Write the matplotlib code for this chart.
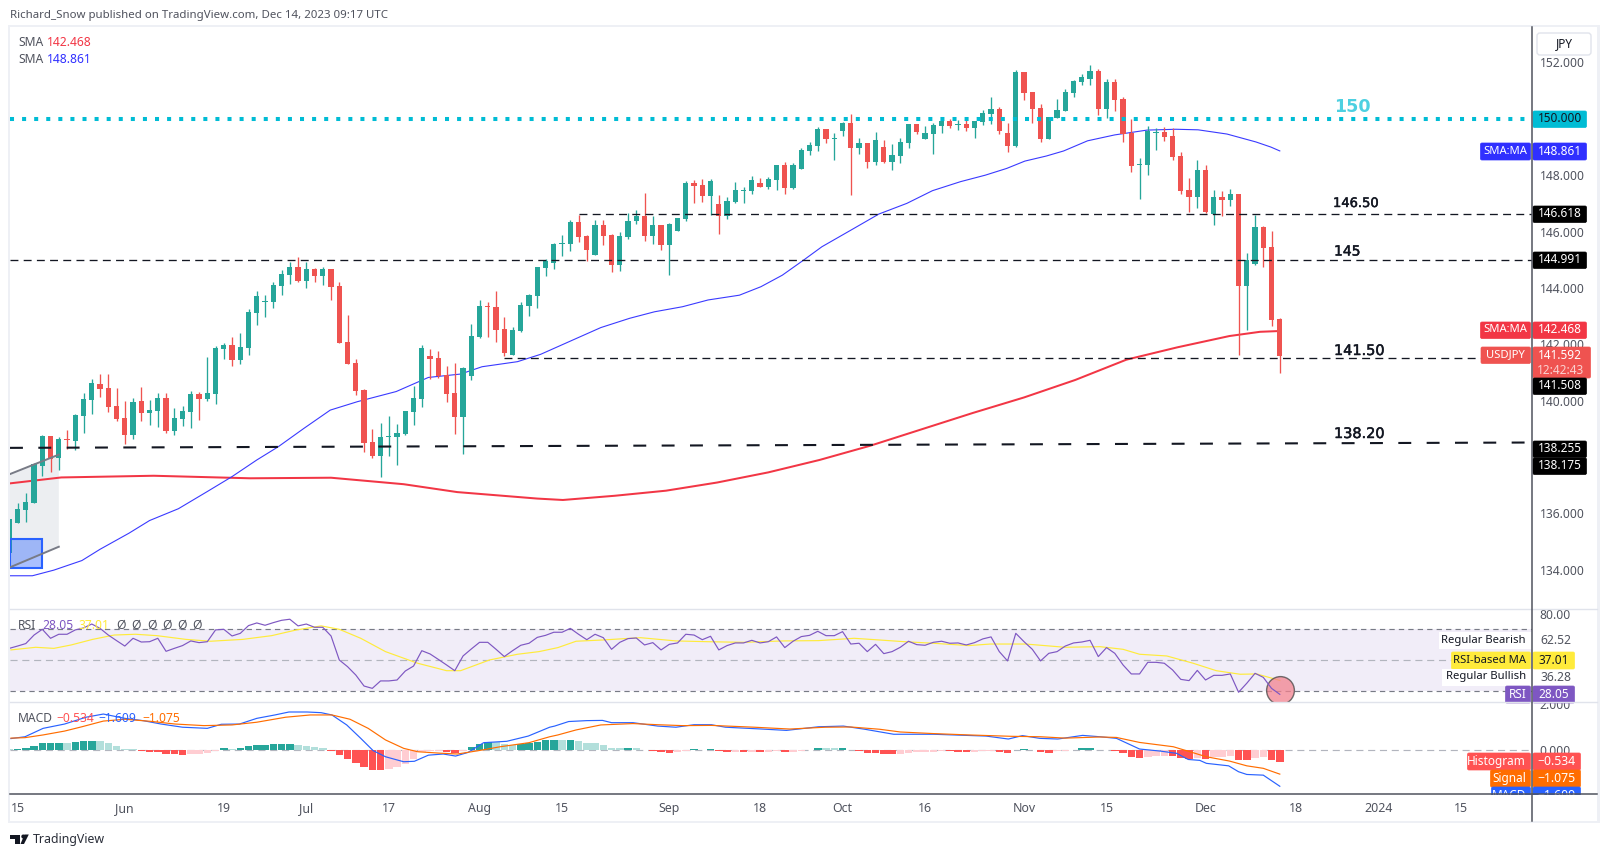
import numpy as np
import matplotlib
matplotlib.use("Agg")
import matplotlib.pyplot as plt
import matplotlib.patheffects as pe
from matplotlib.patches import Rectangle, FancyBboxPatch, Circle, Polygon

plt.rcParams['font.family'] = ['Noto Sans', 'DejaVu Sans']

W, H = 1606, 857

opens = [134.58,135.66,136.13,136.37,137.69,138.74,137.97,138.64,138.56,139.45,
         140.02,140.59,140.45,139.81,139.38,138.78,139.98,139.56,139.63,140.09,
         138.92,139.35,139.59,140.23,140.05,140.23,141.83,141.97,141.44,141.87,
         143.11,143.50,143.50,144.07,144.45,144.74,144.24,144.67,144.42,144.67,
         144.06,142.08,141.33,140.37,138.53,138.03,138.71,138.71,138.81,139.59,
         140.06,141.58,141.51,140.91,140.27,139.42,140.87,142.26,143.36,143.32,
         142.54,141.62,142.47,143.36,143.71,144.70,144.88,145.55,145.55,146.34,
         145.84,145.16,146.23,145.87,144.81,145.80,146.37,146.55,145.84,146.23,
         145.52,146.02,146.44,147.72,147.65,147.26,146.98,146.55,147.05,147.44,
         147.44,147.72,147.58,147.83,148.36,147.54,148.22,148.86,149.03,149.64,
         149.28,149.57,149.85,148.96,149.14,148.47,149.00,148.47,148.68,149.14,
         149.81,149.28,149.46,149.74,149.92,149.78,149.81,149.67,149.89,150.17,
         150.35,149.50,149.03,151.66,150.95,150.38,149.28,150.03,150.28,150.92,
         151.31,151.41,151.70,150.35,151.31,150.70,149.49,148.36,148.36,149.49,
         149.53,149.39,148.68,147.47,147.22,148.18,146.62,147.22,147.12,147.33,
         144.06,144.84,146.16,145.45,142.89]
closes = [135.79,136.14,136.40,137.74,138.74,137.93,138.64,138.60,139.49,140.05,
          140.62,140.41,139.77,139.35,138.78,139.95,139.56,139.66,140.09,138.92,
          139.38,139.63,140.23,140.05,140.27,141.87,141.97,141.44,141.90,143.14,
          143.71,143.53,144.10,144.49,144.74,144.24,144.67,144.42,144.67,144.03,
          142.04,141.30,140.34,138.49,138.03,138.71,138.74,138.85,139.63,140.09,
          141.87,141.48,140.87,140.23,139.42,141.16,142.29,143.36,143.32,142.50,
          141.69,142.50,143.39,143.75,144.74,144.95,145.55,145.59,146.34,145.80,
          145.34,146.23,145.84,144.81,145.84,146.37,146.55,145.84,146.23,145.52,
          146.27,146.48,147.72,147.61,147.26,147.79,146.55,147.08,147.47,147.47,
          147.83,147.58,147.86,148.36,147.54,148.36,148.89,149.07,149.64,149.28,
          149.32,149.85,148.96,149.14,148.47,149.25,148.47,148.71,149.18,149.81,
          149.53,149.50,149.78,149.92,149.74,149.81,149.67,149.92,150.21,150.35,
          149.57,149.03,151.66,150.92,150.35,149.28,150.06,150.31,150.95,151.34,
          151.48,151.70,150.35,151.31,150.67,149.46,148.32,148.39,149.57,149.53,
          149.35,148.64,147.44,147.22,148.18,146.69,147.22,147.12,147.33,144.06,
          144.99,146.16,145.41,142.86,141.58]
highs = [135.79,136.35,136.71,137.77,138.78,138.74,138.71,138.95,139.51,140.28,
         140.77,140.94,140.94,140.45,139.98,140.09,140.48,140.02,140.27,140.27,
         139.74,139.81,140.34,140.30,141.55,141.94,142.04,142.26,142.40,143.25,
         143.89,143.75,144.21,144.63,144.92,145.09,144.92,144.70,144.74,144.67,
         144.20,143.04,141.48,140.41,138.99,139.20,139.45,139.17,139.63,140.52,
         141.97,141.83,141.76,141.23,141.33,141.19,142.72,143.57,143.50,143.89,
         142.97,142.61,143.50,143.78,144.74,145.02,145.59,145.87,146.41,146.59,
         145.87,146.41,146.41,145.91,145.98,146.66,146.76,147.37,146.55,146.23,
         146.30,146.48,147.79,147.83,147.86,147.86,147.29,147.22,147.76,147.58,
         147.97,147.90,147.93,148.36,148.47,148.43,148.96,149.18,149.71,149.64,
         149.50,149.89,150.17,149.32,149.14,149.53,149.25,149.10,149.32,149.81,
         149.81,149.74,149.85,149.92,149.99,149.96,149.99,149.92,150.31,150.77,
         150.42,149.85,151.73,151.66,150.95,150.52,150.06,150.70,151.06,151.38,
         151.59,151.91,151.77,151.41,151.41,150.77,150.00,148.61,149.74,149.67,
         149.71,149.67,148.82,147.90,148.54,148.36,147.47,147.44,147.51,147.33,
         145.24,146.58,146.19,146.02,142.93]
lows = [134.58,135.66,135.70,136.35,137.32,137.46,137.53,138.27,138.24,138.85,
        139.52,140.13,139.59,139.27,138.46,138.64,139.27,139.13,139.06,138.85,
        138.78,139.10,139.03,139.31,139.98,139.88,141.48,141.23,141.30,141.62,
        142.68,142.97,143.29,143.74,144.13,144.20,143.99,144.20,144.10,143.57,
        142.04,141.30,140.20,138.17,137.96,137.29,138.03,137.71,138.78,139.13,
        139.77,140.77,140.80,139.95,138.81,138.10,140.73,142.22,142.26,142.08,
        141.58,141.62,142.43,143.00,143.29,144.42,144.67,145.13,145.30,145.63,
        144.95,145.16,145.52,144.56,144.60,145.73,146.27,145.66,145.55,145.34,
        144.45,146.02,146.37,147.01,147.05,146.59,145.91,146.44,147.01,147.01,
        147.33,147.58,147.51,147.47,147.33,147.51,148.22,148.71,148.86,149.14,
        148.54,149.39,147.29,148.75,148.25,148.36,148.43,148.18,148.43,148.96,
        149.46,149.28,148.75,149.50,149.67,149.60,149.56,149.32,149.78,149.81,
        149.46,148.82,148.99,150.67,149.85,149.18,149.28,150.03,150.28,150.77,
        151.20,151.20,150.13,150.03,150.27,149.18,148.11,147.15,148.00,148.89,
        149.21,148.54,147.33,146.69,146.83,146.65,146.23,146.55,146.90,141.61,
        142.50,144.81,144.74,142.64,140.97]

sma200_idx = [0.1,6.3,17.5,29.2,39,47.8,54.3,64,67.1,73.4,79.6,85.8,92,98.2,104.4,
              110.6,116.8,123,129.2,135.4,141.6,147.9,151.6,154]
sma200_val = [137.06,137.27,137.33,137.24,137.26,137.03,136.75,136.52,136.47,136.62,
              136.80,137.09,137.45,137.89,138.40,138.98,139.56,140.11,140.73,141.45,
              141.89,142.29,142.44,142.468]
sma50_idx = [0.1,2.8,5.4,8.8,11,14.5,17,20.5,24,27,30,32.6,35.7,38.9,42.2,46.9,50.8,54.7,
             57.3,61.6,64.4,68.7,71.7,75.2,78.2,81.6,84.7,88.5,91.1,93.7,96.3,98.5,
             101.9,105.4,108.8,111.9,115.3,118.3,120.9,123.1,125.7,127.8,130.7,134,
             137.9,141.4,144.1,147.6,151.1,152.9,154]
sma50_val = [133.78,133.78,133.98,134.32,134.72,135.29,135.74,136.16,136.77,137.30,137.89,
             138.36,139.01,139.66,139.96,140.32,140.82,140.94,141.20,141.38,141.64,142.20,
             142.59,142.92,143.15,143.33,143.57,143.74,144.04,144.45,144.99,145.46,146.03,
             146.62,147.00,147.45,147.77,148.00,148.24,148.50,148.68,148.86,149.22,149.43,
             149.60,149.63,149.61,149.46,149.18,149.00,148.861]

rsi_vals = [57.7,59.2,60.8,66.3,70.0,64.2,66.8,66.8,69.6,70.9,73.4,70.6,66.3,62.7,59.2,
            64.2,61.8,62.0,64.2,55.8,57.7,59.5,62.5,61.4,62.0,69.6,70.0,65.7,67.4,72.4,
            74.1,72.6,74.3,75.8,76.5,72.2,73.4,71.3,71.3,65.7,50.2,45.9,40.5,33.4,31.9,
            36.7,36.7,37.3,43.1,46.3,56.2,54.1,50.6,47.0,43.3,52.8,57.3,61.6,61.6,57.1,
            52.4,56.2,59.7,61.0,64.8,66.1,68.1,68.1,70.6,66.8,63.3,66.8,64.6,57.1,61.6,
            64.0,64.4,59.9,61.4,56.7,60.3,61.2,66.8,66.3,63.3,65.5,56.7,59.5,61.2,61.2,
            62.9,61.2,62.0,65.1,58.2,62.3,65.3,66.1,68.7,65.9,65.9,68.5,60.5,61.0,55.6,
            60.3,54.3,55.6,58.4,62.3,60.1,59.7,61.6,62.3,61.0,61.2,59.9,61.4,63.8,65.1,
            55.6,49.6,67.4,62.0,57.1,49.6,54.5,55.6,59.2,61.2,61.8,62.9,52.4,58.2,54.5,
            47.0,41.2,41.2,48.7,48.7,48.1,43.8,37.7,36.9,43.5,37.3,40.3,40.3,41.2,29.4,
            35.2,41.6,39.0,31.9,28.05]
rsi_ma_idx = [0.2,3.2,5.4,7.5,10.1,12.7,15.3,17.9,21.4,24.4,28.3,31.8,34.8,37.8,40,42.6,
              45.6,49.5,53,54.7,58.2,61.6,64.2,66.5,68.7,71.9,76.5,80.8,84.7,89,93.8,
              98.1,102.4,105.5,108.5,112,116.3,118.9,123.2,128,132.2,135,137,140.3,
              143.5,146.3,149.2,151.2,154]
rsi_ma_val = [56.7,58.4,57.7,59.9,63.5,66.3,66.8,65.9,63.5,62.3,63.5,65.9,69.6,72.2,70.0,
              64.2,55.6,48.1,43.3,43.3,50.2,53.9,55.6,58.2,62.3,63.1,64.6,62.5,62.0,61.6,
              62.5,62.7,64.2,63.1,62.0,61.0,59.5,60.5,60.5,58.4,58.8,57.1,53.9,52.8,48.1,
              43.3,41.0,41.2,37.01]

hist_vals = [0.01,0.03,0.07,0.16,0.29,0.29,0.31,0.28,0.34,0.37,0.38,0.38,0.28,0.16,0.03,0.01,
             -0.06,-0.09,-0.10,-0.19,-0.19,-0.24,-0.19,-0.18,-0.15,-0.07,0.06,0.04,0.07,0.16,
             0.21,0.21,0.25,0.25,0.25,0.19,0.18,0.12,0.07,-0.06,-0.24,-0.41,-0.59,-0.76,-0.90,
             -0.90,-0.85,-0.76,-0.63,-0.41,-0.10,-0.06,-0.06,-0.10,-0.16,-0.06,0.10,0.25,0.34,
             0.34,0.25,0.21,0.25,0.29,0.34,0.41,0.43,0.43,0.43,0.38,0.29,0.29,0.21,0.07,0.07,
             0.07,0.07,-0.03,-0.06,-0.10,-0.15,-0.09,-0.06,0.01,-0.03,0.01,-0.06,-0.10,-0.10,
             -0.10,-0.10,-0.10,-0.10,-0.06,-0.10,-0.09,-0.06,0.00,0.07,0.07,0.06,0.07,-0.02,
             -0.06,-0.15,-0.15,-0.19,-0.19,-0.19,-0.15,-0.10,-0.10,-0.10,-0.06,-0.06,-0.10,
             -0.10,-0.10,-0.06,-0.06,-0.10,-0.15,-0.02,0.01,-0.03,-0.10,-0.15,-0.06,-0.06,
             -0.02,0.07,0.07,0.00,0.00,-0.06,-0.15,-0.32,-0.37,-0.32,-0.28,-0.28,-0.28,-0.37,
             -0.41,-0.37,-0.41,-0.32,-0.32,-0.28,-0.46,-0.46,-0.37,-0.32,-0.46,-0.534]
hist_kinds = ("g" "GGGGGG" "g" "GGG" "ggggg" "RRRRRR" "rrrr" "G" "g" "GGGGGGG" "gggg" "RRRRRRR"
              "rrrrrrr" "RR" "r" "GGG" "ggg" "GGGGG" "g" "G" "gggggg" "G" "g" "RRRR" "rr" "G" "r" "G"
              "RRrRrRrrRrr" "gGggGg" "RRRRR" "rrrrrr" "RRR" "rrr" "RR" "r" "G" "g" "RR" "rrr" "GG" "g"
              "r" "RRRR" "rrr" "RRR" "r" "R" "rrr" "RR" "rr" "RR")
hist_colors = {"G": "#26a69a", "g": "#b2dfdb", "r": "#ffcdd2", "R": "#ff5252"}

macd_idx = [0.2,1.9,4.1,6.7,9.3,11.4,14,16.2,18.4,21,24,25.7,27.9,30,32.2,33.9,36.1,37.8,39.1,
            40.9,42.6,44.1,45.6,47.8,49.1,50.8,52.6,54.1,55.6,57.5,60.3,62.9,65.5,66.1,67.8,
            70,71.9,73,75.6,78.6,80.8,83,85.1,86.8,91.2,94.2,98.1,101.1,103.7,107.2,112,118.4,
            121.1,122.8,124.9,127.1,130.1,132.2,134.2,137,139.5,141.5,142.9,144.3,145.1,147.8,
            149,150,152,154]
macd_val = [0.49,0.57,0.94,1.13,1.43,1.57,1.38,1.28,1.13,0.99,0.94,1.12,1.13,1.38,1.53,1.66,1.66,
            1.63,1.53,1.09,0.50,-0.04,-0.31,-0.53,-0.51,-0.24,-0.19,-0.28,-0.12,0.31,0.37,0.60,
            0.99,1.04,1.24,1.28,1.29,1.19,1.19,1.04,0.99,1.10,1.10,0.99,0.91,0.85,1.01,1.04,0.90,
            0.68,0.68,0.60,0.47,0.62,0.50,0.47,0.63,0.57,0.50,0.03,-0.06,-0.16,-0.43,-0.47,-0.60,
            -0.71,-0.97,-1.09,-1.12,-1.609]
signal_idx = [0.2,1.9,4.1,6.7,8.8,11.4,14,17.1,20.1,23.6,27,30,33.5,36.5,39.1,41.3,43.5,45.6,47.8,
              49.5,52.1,54.3,56.9,59.5,63,65.5,66.5,68.7,71.7,75.6,78.6,81.6,85.1,90.3,94.6,98.9,
              102,105.5,108,112,116.3,121.4,125,128,132.2,134.2,137,141.1,143.1,145.1,147.9,150,152,154]
signal_val = [0.51,0.53,0.65,0.82,1.01,1.26,1.34,1.25,1.13,1.06,1.09,1.21,1.43,1.53,1.53,1.34,0.94,
              0.43,0.06,-0.09,-0.15,-0.19,-0.04,0.13,0.31,0.57,0.65,0.87,1.09,1.15,1.10,1.06,1.07,
              0.99,0.91,0.99,1.00,0.90,0.78,0.71,0.65,0.59,0.57,0.51,0.56,0.54,0.32,0.13,-0.09,-0.31,
              -0.50,-0.71,-0.82,-1.075]

price_ticks = [134,136,140,142,144,146,148,150,152]
date_pos = [1,14,26,36,46,57,67,80,91,101,111,123,133,145,156,166,176]
date_lab = ["15","Jun","19","Jul","17","Aug","15","Sep","18","Oct","16","Nov","15","Dec","18","2024","15"]

assert len(opens) == len(closes) == len(highs) == len(lows) == len(rsi_vals) == 155
assert len(hist_vals) == 155 and len(hist_kinds) == 155

GREEN, RED = "#26a69a", "#ef5350"
TXT = "#50535e"
XL = (0.085, 184.57)

fig = plt.figure(figsize=(W / 100, H / 100), dpi=100, facecolor="white")


def box(l, t, r, b):
    return [l / W, 1 - b / H, (r - l) / W, (b - t) / H]


ax = fig.add_axes(box(10, 27, 1532, 609))
rs = fig.add_axes(box(10, 609, 1532, 702))
mc = fig.add_axes(box(10, 702, 1532, 794))
for a in (ax, rs, mc):
    a.set_xlim(*XL)
    for s in a.spines.values():
        s.set_visible(False)
    a.tick_params(axis="both", length=0, labelsize=8.7, labelcolor=TXT)
    a.yaxis.tick_right()
    a.set_xticks([])
    a.tick_params(axis="y", pad=5.6)

# main pane
ax.set_ylim(132.60, 153.26)
ax.set_yticks(price_ticks)
ax.set_yticklabels([f"{p:.3f}" for p in price_ticks])

idx = np.arange(len(opens))
o, c, h, l = map(np.array, (opens, closes, highs, lows))
cols = [GREEN if cc >= oo else RED for oo, cc in zip(o, c)]

# position drawing on the left
ax.fill([0.085, 6, 6, 0.085], [137.39, 138.08, 134.81, 134.08], color="#eceef1", zorder=1, lw=0)
ax.plot([0.085, 6], [137.39, 138.08], color="#787b86", lw=1.4, zorder=4)
ax.plot([0.085, 6], [134.08, 134.81], color="#787b86", lw=1.4, zorder=4)
ax.add_patch(Rectangle((0.085, 134.06), 3.9, 1.04, facecolor="#2962ff", alpha=0.4, lw=0, zorder=3.5))
ax.add_patch(Rectangle((0.085, 134.06), 3.9, 1.04, facecolor="none", edgecolor="#2962ff", lw=1.5, zorder=3.6))

ax.plot(sma200_idx, sma200_val, color="#f23645", lw=1.45, zorder=2)
ax.plot(sma50_idx, sma50_val, color="#3a3aff", lw=0.8, zorder=2)
ax.vlines(idx, l, h, colors=cols, lw=0.95, zorder=3)
ax.bar(idx, np.abs(c - o), bottom=np.minimum(o, c), width=0.62, color=cols, lw=0, zorder=3)

ax.axhline(150, color="#00bcd4", lw=2.9, ls=(0, (1, 2)), zorder=4, dash_capstyle="butt")
thin = dict(color="#131722", lw=0.95, ls=(0, (6, 4)), zorder=4)
ax.plot([XL[0], XL[1]], [144.991, 144.991], **thin)
ax.plot([69, XL[1]], [146.618, 146.618], **thin)
ax.plot([60, XL[1]], [141.508, 141.508], **thin)
ax.plot([XL[0], XL[1]], [138.32, 138.51], color="#131722", lw=1.5, ls=(0, (6.2, 7.4)), zorder=4)

# RSI pane
rs.set_ylim(23.1, 83.1)
rs.set_yticks([80])
rs.set_yticklabels(["80.00"])
rs.axhspan(30, 70, color="#7e57c2", alpha=0.1, lw=0, zorder=1)
rs.axhline(70, color="#787b86", lw=0.85, ls=(0, (4.5, 3.5)), zorder=2)
rs.axhline(30, color="#787b86", lw=0.85, ls=(0, (4.5, 3.5)), zorder=2)
rs.axhline(50, color="#b2b5be", lw=0.85, ls=(0, (6, 4)), zorder=2)
rs.plot(rsi_ma_idx, rsi_ma_val, color="#ffeb3b", lw=0.85, zorder=3)
rs.plot(idx, rsi_vals, color="#7e57c2", lw=0.85, zorder=4)
rs.scatter([154], [30.6], s=400, facecolor="#f2828f", alpha=0.75, edgecolor="#444444", lw=1.0, zorder=3.5)

# MACD pane
mc.set_ylim(-1.95, 2.10)
mc.set_yticks([2, 0])
mc.set_yticklabels(["2.000", "0.000"])
mc.axhline(0, color="#b2b5be", lw=0.85, ls=(0, (6, 4)), zorder=1)
mc.bar(idx, hist_vals, width=0.9, color=[hist_colors[k] for k in hist_kinds], lw=0, zorder=2)
mc.plot(macd_idx, macd_val, color="#2962ff", lw=0.85, zorder=3)
mc.plot(signal_idx, signal_val, color="#ff6d00", lw=0.85, zorder=4)
mc.set_xticks(date_pos)
mc.set_xticklabels(date_lab)
mc.tick_params(axis="x", pad=5.8, labelsize=8.9, labelcolor=TXT)
mc.get_xticklabels()[date_lab.index("2024")].set_fontweight("bold")

# overlay in figure pixels for frame, price tags and text
ov = fig.add_axes([0, 0, 1, 1], zorder=10)
ov.set_xlim(0, W)
ov.set_ylim(H, 0)
ov.axis("off")
ov.patch.set_alpha(0)

FRAME = "#eef0f5"
for xx0, yy0, ww, hh in [(8, 25, 2, 797), (8, 25, 1592, 2), (1597, 25, 3, 797), (8, 821, 1592, 2)]:
    ov.add_patch(Rectangle((xx0, yy0), ww, hh, color=FRAME, lw=0))
ov.plot([10, 1597], [609, 609], color="#e0e3eb", lw=1.0)
ov.plot([10, 1597], [702, 702], color="#e0e3eb", lw=1.0)


def tag(x0, x1, y0, y1, fill, label=None, col="white", x=None, ha="center", fs=8.5):
    ov.add_patch(FancyBboxPatch((x0 + 1, y0 + 0.5), x1 - x0 - 2, y1 - y0 - 1,
                                boxstyle="round,pad=0.5,rounding_size=1.5", fc=fill, ec=fill, lw=0.5))
    if label:
        tx = x if x is not None else (x0 + x1) / 2
        ov.text(tx, (y0 + y1) / 2 - 0.3, label, color=col, ha=ha, va="center", fontsize=fs)


VX0, VX1 = 1532.5, 1587
tag(VX0, VX1, 111, 127.5, "#00bcd4", "150.000", "#131722")
tag(1480, 1531, 143, 160, "#3030ff", "SMA:MA", fs=8.1)
tag(VX0, VX1, 143, 160, "#3030ff", "148.861")
tag(VX0, VX1, 206, 222.5, "#000000", "146.618")
tag(VX0, VX1, 252, 268.5, "#000000", "144.991")
tag(1480, 1531, 322, 338.5, "#f23645", "SMA:MA", fs=8.1)
tag(VX0, VX1, 322, 338.5, "#f23645", "142.468")
tag(1480.5, 1531, 347, 363.5, RED, "USDJPY", fs=8.1)
tag(VX0, 1591, 347, 378, RED)
ov.text(1560, 355, "141.592", color="white", ha="center", va="center", fontsize=8.5)
ov.text(1561, 370, "12:42:43", color="#fbd0cf", ha="center", va="center", fontsize=8.5)
tag(VX0, VX1, 378, 394.5, "#000000", "141.508")
tag(VX0, VX1, 441, 457.5, "#000000", "138.255")
tag(VX0, VX1, 458, 474.5, "#000000", "138.175")

ov.add_patch(Rectangle((1439, 632), 93, 17, color="white", lw=0))
ov.text(1526, 640, "Regular Bearish", color="#131722", ha="right", va="center", fontsize=8.1)
ov.text(1540, 640.5, "62.52", color=TXT, ha="left", va="center", fontsize=8.7)
tag(1451, 1531, 652, 669, "#ffeb3b", "RSI-based MA", "#131722", x=1526, ha="right", fs=8.1)
tag(VX0, 1575, 652, 669, "#ffeb3b", "37.01", "#131722")
ov.add_patch(Rectangle((1442, 669), 90, 17, color="white", lw=0))
ov.text(1526, 677, "Regular Bullish", color="#131722", ha="right", va="center", fontsize=8.1)
ov.text(1540, 677.5, "36.28", color=TXT, ha="left", va="center", fontsize=8.7)
tag(1505, 1531, 686, 703, "#7e57c2", "RSI")
tag(VX0, 1575, 686, 703, "#7e57c2", "28.05")

tag(1467, 1531, 753, 770, "#ff5252", "Histogram", x=1526, ha="right")
tag(VX0, 1581, 753, 770, "#ff5252", "−0.534", fs=8.8)
tag(1490, 1531, 770, 787, "#ff6d00", "Signal", x=1526, ha="right")
tag(VX0, 1581, 770, 787, "#ff6d00", "−1.075", fs=8.8)
tag(1491, 1531, 787, 804, "#2962ff", "MACD", x=1526, ha="right")
tag(VX0, 1581, 787, 804, "#2962ff", "−1.609", fs=8.8)
ov.add_patch(Rectangle((1488, 794.5), 109, 26, color="white", lw=0, zorder=5))
ov.plot([10, 1597], [794, 794], color="#50535e", lw=1.1, zorder=6)
ov.plot([1532, 1532], [27, 821], color="#50535e", lw=1.1, zorder=6)

# JPY button
ov.add_patch(FancyBboxPatch((1537, 33), 54, 22, boxstyle="round,pad=0,rounding_size=3",
                            fc="white", ec="#e0e3eb", lw=1.0))
ov.text(1564, 44, "JPY", color="#131722", ha="center", va="center", fontsize=8.5)

# texts
ov.text(10, 15, "Richard_Snow published on TradingView.com, Dec 14, 2023 09:17 UTC",
        color=TXT, ha="left", va="center", fontsize=8.25)
ov.text(18, 42, "SMA", color=TXT, va="center", fontsize=8.7)
ov.text(47, 42, "142.468", color="#f23645", va="center", fontsize=8.7)
ov.text(18, 59, "SMA", color=TXT, va="center", fontsize=8.7)
ov.text(47, 59, "148.861", color="#3030ff", va="center", fontsize=8.7)

ov.text(18, 625.5, "RSI", color=TXT, va="center", fontsize=8.7)
ov.text(42, 625.5, "28.05", color="#7e57c2", va="center", fontsize=8.7)
ov.text(78, 625.5, "37.01", color="#ffeb3b", va="center", fontsize=8.7)
for xp in (116, 131, 147, 162, 177, 192):
    ov.text(xp, 625.5, "Ø", color=TXT, va="center", fontsize=8.7)

ov.text(18, 719, "MACD", color=TXT, va="center", fontsize=8.7)
ov.text(56, 719, "−0.534", color="#ff5252", va="center", fontsize=8.7)
ov.text(98, 719, "−1.609", color="#2962ff", va="center", fontsize=8.7)
ov.text(142, 719, "−1.075", color="#ff6d00", va="center", fontsize=8.7)

stroke = [pe.withStroke(linewidth=0.35, foreground="#131722")]
lab = dict(color="#131722", ha="left", va="center", family=["DejaVu Sans"], path_effects=stroke)
ov.text(1334, 107, "150", color="#4dd0e1", ha="left", va="center", fontsize=12.6,
        family=["DejaVu Sans"], fontweight="bold")
ov.text(1333, 203.5, "146.50", fontsize=9.4, **lab)
ov.text(1334, 251.5, "145", fontsize=10, **lab)
ov.text(1334, 351, "141.50", fontsize=10.4, **lab)
ov.text(1334, 434, "138.20", fontsize=10.4, **lab)

# watermark logo and name
ov.add_patch(Polygon([(10, 834.5), (20, 834.5), (20, 844), (15, 844), (15, 838.5), (10, 838.5)], color="#131722", lw=0))
ov.add_patch(Circle((23.3, 836.5), 2.0, color="#131722", lw=0))
ov.add_patch(Polygon([(24, 844), (28.8, 834.5), (24.5, 834.5), (20.5, 844)], color="#131722", lw=0))
ov.text(33, 840, "TradingView", color="#2a2e39", ha="left", va="center", fontsize=8.9)

fig.savefig("out.png", dpi=100)
